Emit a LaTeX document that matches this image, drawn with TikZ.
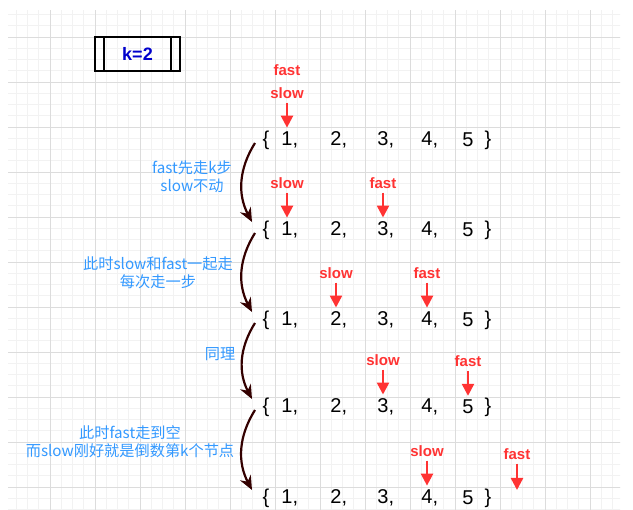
\documentclass[tikz,border=0pt]{standalone}
\usepackage{fontspec}
\setmainfont{Liberation Sans}
\newfontfamily\cjk{Noto Sans CJK SC}
\usetikzlibrary{arrows.meta,positioning}
\definecolor{ptrred}{HTML}{FF3333}
\definecolor{noteblue}{HTML}{3399FF}
\definecolor{kblue}{HTML}{0000CC}
\definecolor{curvebrown}{HTML}{330000}
\definecolor{gridlight}{HTML}{F2F2F2}
\definecolor{gridmajor}{HTML}{DCDCDC}

\begin{document}
\begin{tikzpicture}[x=1pt, y=-1pt, node distance=32pt,
	num/.style={font=\fontsize{20}{20}\selectfont, inner sep=0pt},
	ptr/.style={font=\bfseries\fontsize{15}{15}\selectfont, text=ptrred, inner sep=1pt},
	ptrline/.style={-{Triangle[length=12pt,width=12pt]}, draw=ptrred, line width=2.4pt, shorten <=3pt, shorten >=4pt},
	note/.style={font=\cjk\fontsize{15.2}{18}\selectfont, text=noteblue, align=center},
	move/.style={-{Stealth[length=14pt,width=12pt]}, draw=curvebrown, line width=2.2pt},
	minorgrid/.style={draw=gridlight, line width=0.8pt},
	majorgrid/.style={draw=gridmajor, line width=0.8pt}]
	\fill[white] (0,0) rectangle (633,510);
	\begin{scope}
		\clip (8,11) rectangle (620,510);
		\foreach \i in {0,...,55} \draw[minorgrid] (5+11.25*\i,0) -- (5+11.25*\i,510);
		\foreach \i in {0,...,46} \draw[minorgrid] (0,-8+11.25*\i) -- (633,-8+11.25*\i);
		\foreach \i in {0,...,14} \draw[majorgrid] (5+45*\i,0) -- (5+45*\i,510);
		\foreach \i in {0,...,12} \draw[majorgrid] (0,-8+45*\i) -- (633,-8+45*\i);
	\end{scope}
	
	\node[draw, line width=1.8pt, minimum width=85pt, minimum height=34pt,
		font=\bfseries\fontsize{18}{18}\selectfont, text=kblue] (kbox) at (137.5,54) {k=2};
	\draw[line width=1.8pt] ([xshift=10pt]kbox.north west) -- ([xshift=10pt]kbox.south west);
	\draw[line width=1.8pt] ([xshift=-10pt]kbox.north east) -- ([xshift=-10pt]kbox.south east);
	
	\foreach \row/\y in {1/140,2/230,3/320,4/407,5/498} {
		\node[num] (b\row) at (266,\y) {\{};
		\foreach \col/\x in {1/287,2/336,3/383,4/427}
			\node[num] (n\row\col) at (\x,\y) {\col\rlap{,}};
		\node[num] (n\row5) at (468,\y) {5};
		\node[num] (e\row) at (488,\y) {\}};
		\coordinate (from\row) at (255,\y+3);
		\coordinate (to\row) at (252,\y-8);
	}
	\coordinate (past) at (517,490);
	
	\node[ptr] (s1) [above=of n11]                {slow};
	\node[ptr] (f1) [node distance=9pt, above=of s1] {fast};
	\node[ptr] (s2) [above=of n21]                {slow};
	\node[ptr] (f2) [above=of n23]                {fast};
	\node[ptr] (s3) [above=of n32]                {slow};
	\node[ptr] (f3) [above=of n34]                {fast};
	\node[ptr] (s4) [above=of n43]                {slow};
	\node[ptr] (f4) [above=of n45]                {fast};
	\node[ptr] (s5) [above=of n54]                {slow};
	\node[ptr] (f5) at (517,454)                  {fast};
	
	\foreach \p/\q in {s1/n11,s2/n21,f2/n23,s3/n32,f3/n34,s4/n43,f4/n45,s5/n54}
		\draw[ptrline] (\p) -- (\q);
	\draw[ptrline, shorten >=0pt] (f5) -- (past);
	
	\foreach \a/\b in {1/2,2/3,3/4,4/5}
		\draw[move] (from\a) to[bend right=30] (to\b);
	
	\node[note] (note1) at (192,177) {fast先走k步\\slow不动};
	\node[note] (note2) at (158,273) {此时slow和fast一起走\\每次走一步};
	\node[note] (note3) at (220,354) {同理};
	\node[note] (note4) at (130,442) {此时fast走到空\\而slow刚好就是倒数第k个节点};
\end{tikzpicture}
\end{document}
